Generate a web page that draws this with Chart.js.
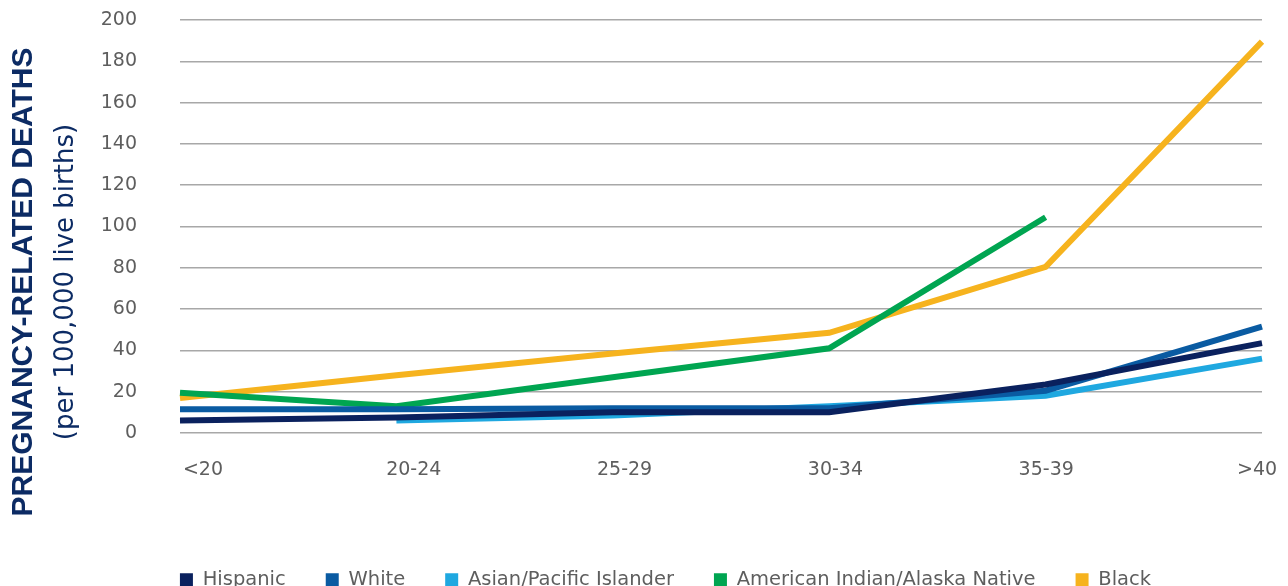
<!DOCTYPE html>
<html>
<head>
<meta charset="utf-8">
<script src="https://cdn.jsdelivr.net/npm/chart.js@4.4.1/dist/chart.umd.min.js"></script>
<style>
  html, body { margin: 0; padding: 0; background: #ffffff; }
  #wrap { position: relative; width: 1288px; height: 586px; }
</style>
</head>
<body>
<div id="wrap"><canvas id="c"></canvas></div>
<script>
// ---- data ----
const categories = ['<20', '20-24', '25-29', '30-34', '35-39', '>40'];
const hispanic = [6, 7.5, 10, 10, 23.5, 43.5];
const white = [11.5, 11.5, 12, 12, 20.5, 51.5];
const asianPacific = [null, 6, 8.5, 13, 18, 36];
const aian = [19.5, 13, 27, 41, 104.5, null];
const black = [17, 28, 38.5, 48.5, 80.5, 189.5];
const seriesNames = ['Hispanic', 'White', 'Asian/Pacific Islander', 'American Indian/Alaska Native', 'Black'];
const yTicks = [0, 20, 40, 60, 80, 100, 120, 140, 160, 180, 200];
const titleMain = 'PREGNANCY-RELATED DEATHS';
const titleSub = '(per 100,000 live births)';

const colors = ['#0a215e', '#0a5ba2', '#1fa8e0', '#00a551', '#f6b31e'];
const gray = '#5e5e5e';
const navy = '#0c2b64';
const tickFont = { family: '"DejaVu Sans"', size: 19 };

const seriesData = [hispanic, white, asianPacific, aian, black];

const titlePlugin = {
  id: 'sideTitle',
  afterDraw(chart) {
    const ctx = chart.ctx;
    ctx.save();
    ctx.fillStyle = navy;
    ctx.textAlign = 'center';
    ctx.textBaseline = 'middle';
    ctx.translate(23.5, 282);
    ctx.rotate(-Math.PI / 2);
    ctx.font = 'bold 30px "Liberation Sans"';
    ctx.fillText(titleMain, 0, 0);
    ctx.restore();
    ctx.save();
    ctx.fillStyle = navy;
    ctx.textAlign = 'center';
    ctx.textBaseline = 'middle';
    ctx.translate(66.5, 282);
    ctx.rotate(-Math.PI / 2);
    ctx.font = '26px "DejaVu Sans"';
    ctx.fillText(titleSub, 0, 0);
    ctx.restore();
  }
};

const legendHeight = {
  id: 'legendHeight',
  beforeInit(chart) {
    const fit = chart.legend.fit;
    chart.legend.fit = function () {
      fit.call(this);
      this.height = 56;
    };
  }
};

new Chart(document.getElementById('c'), {
  type: 'line',
  data: {
    labels: categories,
    datasets: seriesData.map((d, i) => ({
      label: seriesNames[i],
      data: d,
      borderColor: colors[i],
      backgroundColor: colors[i],
      borderWidth: 6,
      pointRadius: 0,
      pointHoverRadius: 0,
      fill: false,
      tension: 0,
      spanGaps: false
    }))
  },
  options: {
    responsive: true,
    maintainAspectRatio: false,
    animation: false,
    layout: { padding: { left: 69, right: 26, top: 20, bottom: 0 } },
    plugins: {
      legend: {
        position: 'bottom',
        align: 'center',
        labels: {
          boxWidth: 13,
          boxHeight: 13,
          padding: 40,
          color: gray,
          font: { family: '"DejaVu Sans"', size: 19.5 },
          generateLabels: (chart) => Chart.defaults.plugins.legend.labels.generateLabels(chart)
            .map(l => Object.assign(l, { lineWidth: 0 }))
        }
      },
      tooltip: { enabled: false },
      title: { display: false }
    },
    scales: {
      x: {
        type: 'category',
        display: false,
        offset: false
      },
      xl: {
        type: 'linear',
        position: 'bottom',
        min: -0.1091,
        max: 5.0237,
        grid: { display: true, drawOnChartArea: false, drawTicks: true, tickLength: 26, color: 'rgba(0,0,0,0)', tickColor: 'rgba(0,0,0,0)' },
        border: { display: false },
        afterBuildTicks: (s) => { s.ticks = categories.map((_, i) => ({ value: i })); },
        afterFit: (s) => { s.height = 97; },
        ticks: {
          autoSkip: false,
          maxRotation: 0,
          padding: 0,
          color: gray,
          font: tickFont,
          callback: (v) => categories[Math.round(v)]
        }
      },
      y: {
        min: 0,
        max: 200,
        afterBuildTicks: (s) => { s.ticks = yTicks.map(v => ({ value: v })); },
        afterFit: (s) => { s.width = 111; },
        grid: { color: '#a8a8a8', lineWidth: 1.5, drawTicks: true, tickLength: 43, tickColor: 'rgba(0,0,0,0)' },
        border: { display: false },
        ticks: {
          padding: 0,
          color: gray,
          font: tickFont
        }
      }
    }
  },
  plugins: [legendHeight, titlePlugin]
});
</script>
</body>
</html>
